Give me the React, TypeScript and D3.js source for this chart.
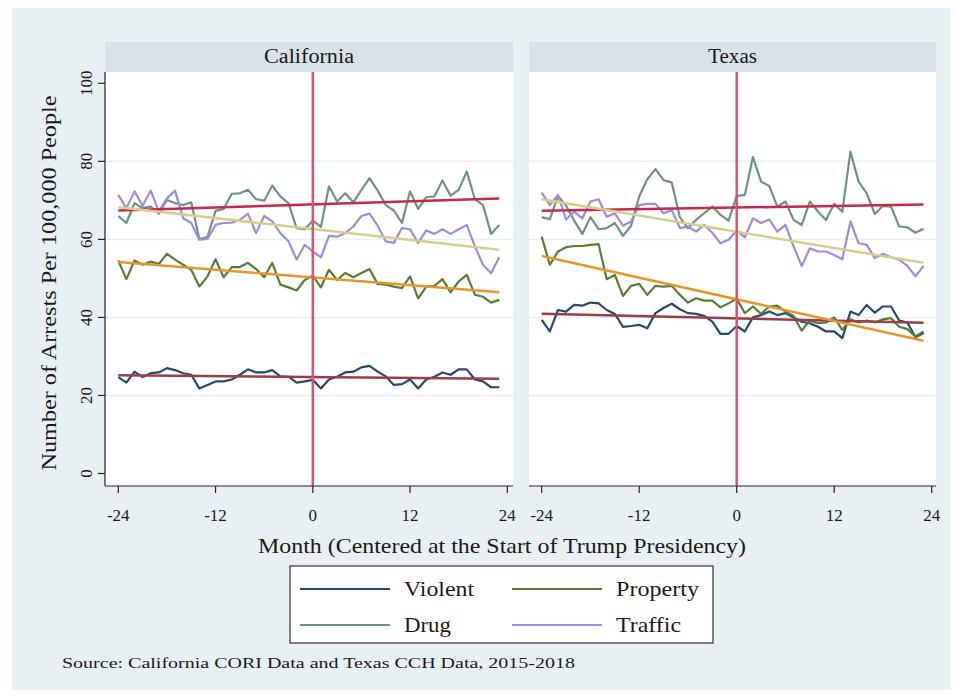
import React from "react";
import * as d3 from "d3";

const months: number[] = d3.range(-24, 24);
const panels = ["California", "Texas"];
const seriesNames = ["Violent", "Property", "Drug", "Traffic"];
const xTicks = [-24, -12, 0, 12, 24];
const yTicks = [0, 20, 40, 60, 80, 100];
const gridTicks = [20, 40, 60, 80];

const caViolent = [24.7,23.3,26.1,24.7,25.7,25.9,27.0,26.5,25.7,25.3,21.8,22.7,23.6,23.6,24.1,25.3,26.7,25.9,25.9,26.5,24.9,24.8,23.3,23.6,24.0,21.8,24.1,24.8,25.9,26.1,27.2,27.6,26.1,24.9,22.7,22.9,24.1,21.8,24.1,24.8,25.9,25.3,26.7,26.7,24.1,23.6,22.1,22.1];
const caProperty = [54.6,49.8,54.6,53.5,54.3,53.7,56.3,54.8,53.5,52.2,47.9,50.5,54.9,50.3,52.9,52.9,54.0,52.4,50.3,54.0,48.4,47.7,46.9,49.6,50.7,47.7,52.2,49.6,51.4,50.3,51.4,52.4,48.6,48.4,47.9,47.5,50.5,44.9,47.9,48.1,49.8,46.4,49.2,50.9,45.8,45.3,43.8,44.5];
const caDrug = [66.0,64.2,69.3,68.0,68.4,66.6,70.1,69.3,68.8,69.5,60.1,60.6,67.3,67.8,71.7,71.8,72.7,70.3,69.9,73.8,71.0,69.3,62.9,62.6,64.8,63.2,73.6,69.7,71.8,69.5,72.7,75.7,72.5,68.8,67.4,64.2,72.3,67.8,70.8,71.0,75.1,71.2,72.7,77.4,70.3,68.8,61.4,63.7];
const caTraffic = [71.4,68.0,72.3,68.6,72.5,67.2,70.5,72.5,65.4,64.2,59.9,60.1,63.7,64.2,64.3,65.0,66.6,61.6,66.0,64.6,61.6,59.5,54.8,58.6,56.9,55.4,60.9,60.7,61.6,63.3,66.0,66.6,63.5,59.5,59.1,62.9,62.6,59.1,62.3,61.4,62.6,61.4,62.6,63.7,58.2,53.5,51.3,55.4];

const txViolent = [39.4,36.4,41.9,41.5,43.2,43.0,43.8,43.6,41.9,40.9,37.6,37.8,38.1,37.2,41.1,42.4,43.5,42.1,41.1,40.9,40.4,38.9,35.8,35.8,37.8,36.4,40.0,40.6,41.5,40.6,41.1,40.0,38.9,38.5,37.6,36.4,36.4,34.7,41.5,40.6,43.2,41.2,42.8,42.8,39.2,38.7,34.9,36.0];
const txProperty = [60.7,53.5,56.9,58.0,58.3,58.3,58.6,58.8,49.8,50.9,45.5,48.1,48.6,45.8,48.1,47.9,48.1,45.8,43.8,44.9,44.3,44.3,42.6,43.6,44.8,41.1,42.8,40.9,42.8,43.0,41.5,40.4,36.6,39.2,38.5,38.7,40.0,36.8,39.5,38.7,39.2,38.7,39.5,39.8,37.6,37.0,35.1,36.4];
const txDrug = [65.7,65.2,71.1,68.6,64.8,61.4,65.7,62.6,62.9,64.2,60.9,63.5,71.0,75.4,78.0,75.2,74.6,65.7,62.9,65.0,66.7,68.4,66.3,64.8,71.1,71.4,81.1,74.8,73.7,68.4,69.7,65.0,63.7,69.7,67.1,65.0,69.1,67.1,82.5,74.8,71.8,66.5,68.6,68.4,63.3,63.1,61.7,62.7];
const txTraffic = [72.0,68.8,71.4,65.1,67.1,65.4,69.7,70.3,65.8,66.7,63.5,64.6,68.8,69.1,69.1,66.7,67.5,62.9,63.3,62.0,63.7,61.7,59.0,59.9,62.3,60.5,65.4,64.2,65.1,62.0,63.7,58.2,53.2,57.7,56.9,56.9,56.0,54.9,64.6,59.0,58.6,55.2,56.3,55.4,54.8,53.2,50.5,53.2];

const lineColors = ["#27496f", "#5a7d36", "#6f9285", "#9f8cdc"];
const fitColors = ["#9c3c4a", "#e8962c", "#c8284c", "#d5ce8c"];

const W = 956, H = 698;
const plotTop = 72, plotBottom = 486, headerTop = 42;
const panelBox = [
  { left: 105, right: 513, r0: 118.3, r1: 507.3, titleW: 90 },
  { left: 529, right: 936, r0: 541.7, r1: 931.7, titleW: 49 },
];
const legendW = [70, 83, 47, 65];
const yScale = d3.scaleLinear().domain([0, 100]).range([473.5, 83.3]);
const serif = "'Liberation Serif', 'Times New Roman', serif";

function fit(vals: number[]) {
  const n = vals.length;
  const mx = d3.mean(months)!;
  const my = d3.mean(vals)!;
  let sxy = 0, sxx = 0;
  months.forEach((m, i) => { sxy += (m - mx) * (vals[i] - my); sxx += (m - mx) * (m - mx); });
  const b = sxy / sxx;
  const a = my - b * mx;
  return [months[0], months[n - 1]].map((m) => [m, a + b * m] as [number, number]);
}

export default function App() {
  const data = [
    [caViolent, caProperty, caDrug, caTraffic],
    [txViolent, txProperty, txDrug, txTraffic],
  ];
  return (
    <svg width={W} height={H} style={{ position: "absolute", left: 0, top: 0 }} fontFamily={serif}>
      <rect x={0} y={0} width={W} height={H} fill="#ffffff" />
      <rect x={12} y={8} width={939} height={682} fill="#e8f0f3" />
      {panels.map((name, p) => {
        const pb = panelBox[p];
        const x = d3.scaleLinear().domain([-24, 24]).range([pb.r0, pb.r1]);
        const line = d3.line<[number, number]>().x((d) => x(d[0])).y((d) => yScale(d[1]));
        return (
          <g key={name}>
            <rect x={pb.left} y={headerTop} width={pb.right - pb.left} height={plotTop - headerTop} fill="#d7e3e9" />
            <text x={(pb.left + pb.right) / 2} y={63} textAnchor="middle" fontSize={20} fill="#1a1a1a" textLength={pb.titleW} lengthAdjust="spacingAndGlyphs">{name}</text>
            <rect x={pb.left} y={plotTop} width={pb.right - pb.left} height={plotBottom - plotTop} fill="#ffffff" />
            {gridTicks.map((t) => (
              <line key={t} x1={pb.left} x2={pb.right} y1={yScale(t)} y2={yScale(t)} stroke="#e6eff3" strokeWidth={1.5} />
            ))}
            {data[p].map((vals, s) => (
              <path key={"l" + s} d={line(months.map((m, i) => [m, vals[i]] as [number, number]))!} fill="none" stroke={lineColors[s]} strokeWidth={2.2} strokeLinejoin="round" />
            ))}
            {data[p].map((vals, s) => (
              <path key={"f" + s} d={line(fit(vals))!} fill="none" stroke={fitColors[s]} strokeWidth={2.5} />
            ))}
            <line x1={x(0)} x2={x(0)} y1={plotTop} y2={plotBottom} stroke="#d6566f" strokeWidth={2.5} />
            <line x1={pb.left} x2={pb.right} y1={plotBottom} y2={plotBottom} stroke="#222" strokeWidth={1.2} />
            {xTicks.map((t) => (
              <g key={t}>
                <line x1={x(t)} x2={x(t)} y1={plotBottom} y2={plotBottom + 7} stroke="#222" strokeWidth={1.2} />
                <text x={x(t)} y={521} textAnchor="middle" fontSize={17} fill="#1a1a1a">{t}</text>
              </g>
            ))}
            {p === 0 && (
              <g>
                <line x1={pb.left} x2={pb.left} y1={plotTop} y2={plotBottom} stroke="#222" strokeWidth={1.2} />
                {yTicks.map((t) => (
                  <g key={t}>
                    <line x1={pb.left - 7} x2={pb.left} y1={yScale(t)} y2={yScale(t)} stroke="#222" strokeWidth={1.2} />
                    <text transform={`translate(92,${yScale(t)}) rotate(-90)`} textAnchor="middle" fontSize={17} fill="#1a1a1a">{t}</text>
                  </g>
                ))}
              </g>
            )}
          </g>
        );
      })}
      <text transform="translate(56,283) rotate(-90)" textAnchor="middle" fontSize={21} fill="#1a1a1a" textLength={375} lengthAdjust="spacingAndGlyphs">Number of Arrests Per 100,000 People</text>
      <text x={502} y={553} textAnchor="middle" fontSize={21} fill="#1a1a1a" textLength={488} lengthAdjust="spacingAndGlyphs">Month (Centered at the Start of Trump Presidency)</text>
      <rect x={290} y={566} width={423} height={77} fill="#ffffff" stroke="#333" strokeWidth={1.2} />
      {seriesNames.map((nm, s) => {
        const col = s % 2, row = Math.floor(s / 2);
        const lx = col === 0 ? 300 : 512;
        const ly = row === 0 ? 589 : 625;
        return (
          <g key={nm}>
            <line x1={lx} x2={lx + 90} y1={ly} y2={ly} stroke={lineColors[s]} strokeWidth={2} />
            <text x={lx + 104} y={ly + 7} fontSize={21} fill="#1a1a1a" textLength={legendW[s]} lengthAdjust="spacingAndGlyphs">{nm}</text>
          </g>
        );
      })}
      <text x={62} y={668} fontSize={15} fill="#1a1a1a" textLength={513} lengthAdjust="spacingAndGlyphs">Source: California CORI Data and Texas CCH Data, 2015-2018</text>
    </svg>
  );
}
